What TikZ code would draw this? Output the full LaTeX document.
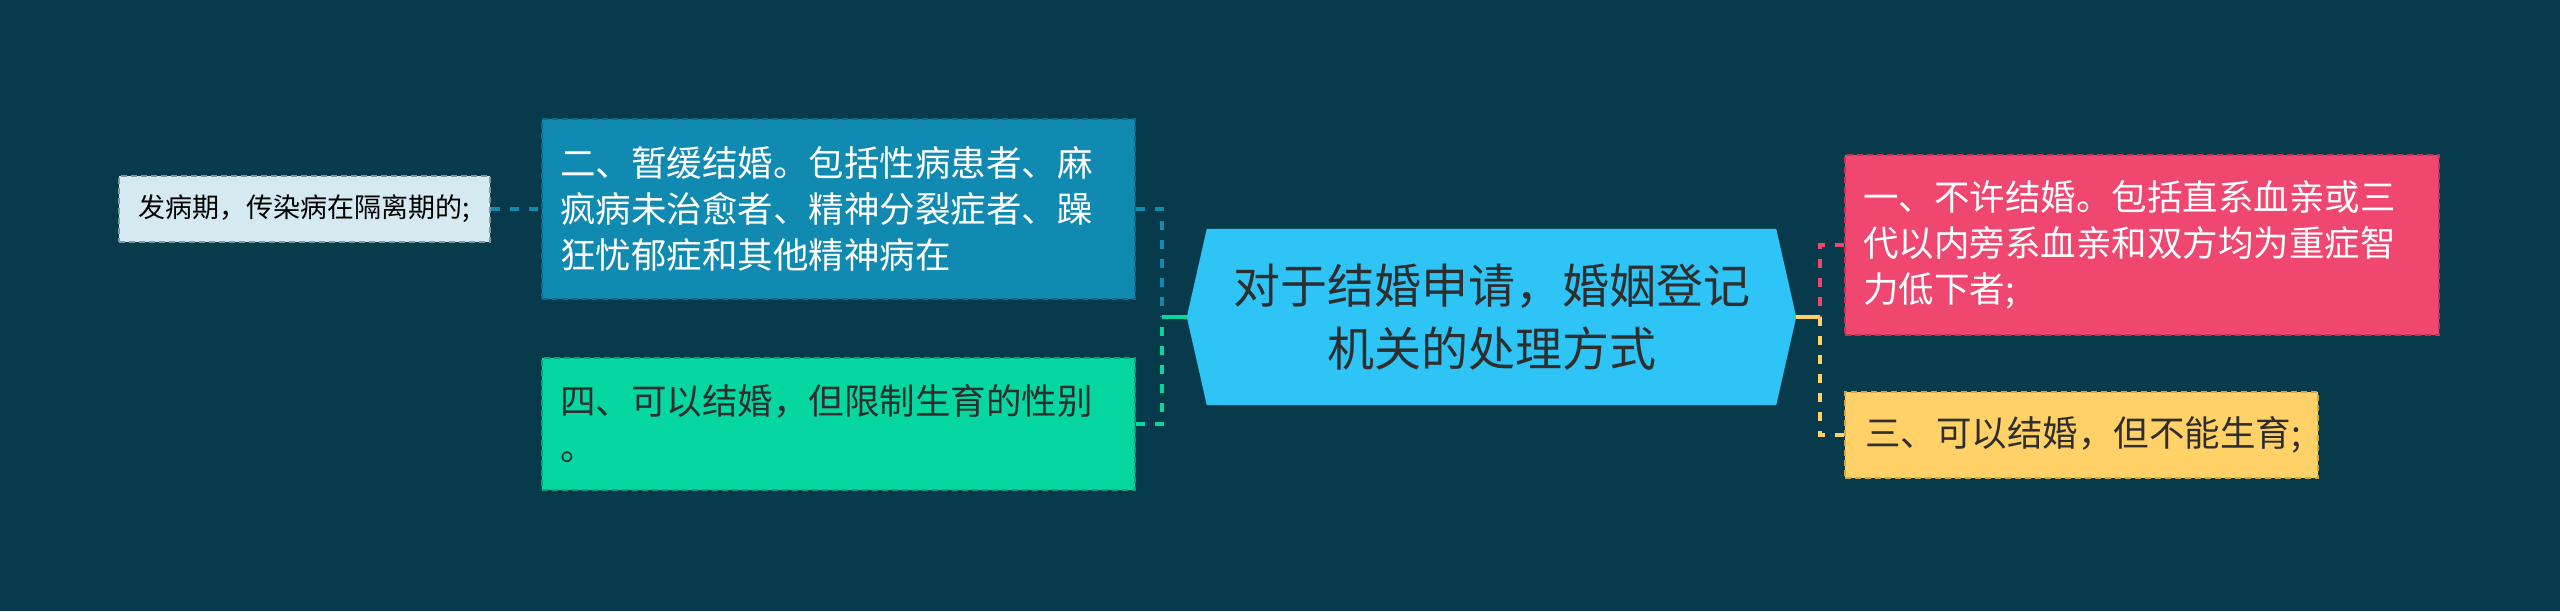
\documentclass[tikz,border=0pt]{standalone}
\usepackage{fontspec}
\setmainfont{Noto Sans CJK SC}
\usetikzlibrary{backgrounds}
\definecolor{bgc}{HTML}{073B4C}
\definecolor{bluef}{HTML}{118AB2}
\definecolor{blued}{HTML}{0C6A8C}
\definecolor{greenf}{HTML}{06D6A0}
\definecolor{greend}{HTML}{04A57C}
\definecolor{pinkf}{HTML}{EF476F}
\definecolor{pinkd}{HTML}{C23457}
\definecolor{yellf}{HTML}{FFD166}
\definecolor{yelld}{HTML}{D2A744}
\definecolor{skyf}{HTML}{2EC4F5}
\definecolor{lightf}{HTML}{D5E9F0}
\definecolor{lightd}{HTML}{7E98A2}
\definecolor{darktxt}{HTML}{2E2E2E}
\tikzset{
  topic/.style={inner xsep=18pt, inner ysep=0pt, align=left, line width=2pt,
    dash pattern=on 6pt off 4pt, font=\fontsize{35.5}{46}\selectfont},
  conn/.style={line width=3.5pt, dash pattern=on 9pt off 10pt},
  solidconn/.style={line width=3.5pt}
}
\begin{document}
\begin{tikzpicture}[x=1pt,y=-1pt]
\path[use as bounding box] (0,0) rectangle (2560,611);

\node[draw=lightd, fill=lightf, line width=2pt, dash pattern=on 6pt off 4pt,
  minimum width=371pt, minimum height=66pt, inner sep=0pt, text=black,
  font=\fontsize{27}{32}\selectfont] (s) at (304.5,209) {发病期，传染病在隔离期的;};

\node[topic, draw=blued, fill=bluef, text=white, text width=557pt, minimum height=180pt]
  (b) at (838.5,209) {二、暂缓结婚。包括性病患者、麻\\疯病未治愈者、精神分裂症者、躁\\狂忧郁症和其他精神病在};

\node[topic, draw=greend, fill=greenf, text=darktxt, text width=557pt, minimum height=132pt]
  (g) at (838.5,424) {四、可以结婚，但限制生育的性别\\。};

\node[minimum width=609pt, minimum height=176pt, inner sep=0pt, align=center, text=darktxt,
  font=\fontsize{47}{63}\selectfont] (c) at (1491.5,317) {对于结婚申请，婚姻登记\\机关的处理方式};

\node[topic, draw=pinkd, fill=pinkf, text=white, text width=558pt, minimum height=180pt]
  (p) at (2142,245) {一、不许结婚。包括直系血亲或三\\代以内旁系血亲和双方均为重症智\\力低下者;};

\node[topic, draw=yelld, fill=yellf, text=darktxt, inner xsep=20pt, text width=433pt, minimum height=86pt]
  (y) at (2081.5,435) {三、可以结婚，但不能生育;};

\begin{pgfonlayer}{background}
\fill[bgc] (0,0) rectangle (2560,611);
\fill[skyf] (c.west) -- ([xshift=20pt]c.north west) -- ([xshift=-20pt]c.north east)
  -- (c.east) -- ([xshift=-20pt]c.south east) -- ([xshift=20pt]c.south west) -- cycle;
\end{pgfonlayer}

\coordinate (lj) at ([xshift=-25pt]c.west);
\coordinate (rj) at ([xshift=24pt]c.east);

\draw[conn, bluef] (s.east) -- (b.west);
\draw[conn, bluef] (b.east) -| (lj);
\draw[conn, greenf] (g.east) -| (lj);
\draw[solidconn, greenf] (c.west) -- (lj);

\draw[conn, pinkf] (p.west) -| (rj);
\draw[conn, yellf] (y.west) -| (rj);
\draw[solidconn, yellf] (c.east) -- (rj);
\end{tikzpicture}
\end{document}
